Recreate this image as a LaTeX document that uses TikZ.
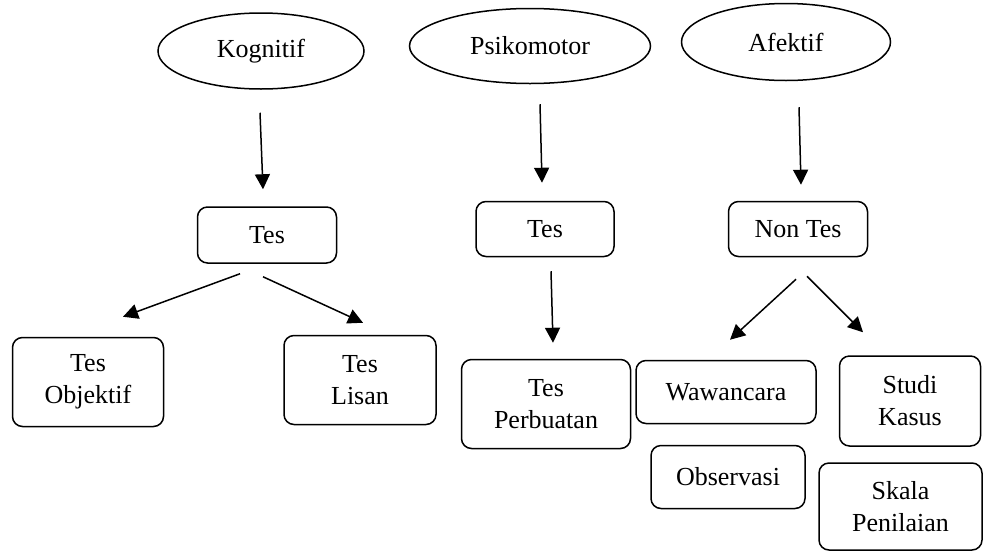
\documentclass[tikz,border=0pt]{standalone}
\usepackage{fontspec}
\setmainfont{Liberation Serif}
\usetikzlibrary{arrows.meta,calc,shapes.geometric}

\tikzset{
  every node/.style={font=\fontsize{26}{32}\selectfont},
  ranah/.style={ellipse, draw, line width=1.5pt, inner sep=0pt},
  kotak/.style={rectangle, rounded corners=10pt, draw, line width=1.5pt, inner sep=0pt, align=center},
  panah/.style={-{Triangle[length=15pt,width=15pt]}, line width=1.5pt}
}

\begin{document}
\begin{tikzpicture}[x=1pt,y=-1pt]
\useasboundingbox (0,0) rectangle (984,552);
% ranah penilaian
\node[ranah, minimum width=206, minimum height=76] (kog) at (261,51) {Kognitif};
\node[ranah, minimum width=241, minimum height=75] (psi) at (530,46) {Psikomotor};
\node[ranah, minimum width=209, minimum height=77] (afe) at (786,42) {Afektif};

% jenis alat
\node[kotak, minimum width=139, minimum height=56] (tes1) at (267,235) {Tes};
\node[kotak, minimum width=138, minimum height=55] (tes2) at (545,229) {Tes};
\node[kotak, minimum width=139, minimum height=55] (nontes) at (798,229) {Non Tes};

% bentuk
\node[kotak, minimum width=151, minimum height=89] (tobj) at (88,382) {Tes\\Objektif};
\node[kotak, minimum width=152, minimum height=89] (tlis) at (360,380) {Tes\\Lisan};
\node[kotak, minimum width=169, minimum height=89] (tperb) at (546,404) {Tes\\Perbuatan};
\node[kotak, minimum width=180, minimum height=63] (waw) at (726,392) {Wawancara};
\node[kotak, minimum width=154, minimum height=63] (obs) at (728,477) {Observasi};
\node[kotak, minimum width=141, minimum height=90] (studi) at (910,401) {Studi\\Kasus};
\node[kotak, minimum width=163, minimum height=87] (skala) at (900.5,506.5) {Skala\\Penilaian};

\draw[panah] ($(kog.south)+(-1,23)$) -- ($(tes1.north)+(-4,-17)$);
\draw[panah] ($(psi.south)+(10,20)$) -- ($(tes2.north)+(-3,-18)$);
\draw[panah] ($(afe.south)+(13,26)$) -- ($(nontes.north)+(3,-16)$);

\draw[panah] ($(tes1.south)+(-27,10)$) -- ($(tobj.north)+(35,-20)$);
\draw[panah] ($(tes1.south)+(-4,13)$) -- ($(tlis.north)+(3,-12)$);
\draw[panah] ($(tes2.south)+(6,14)$) -- ($(tperb.north)+(7,-16)$);
\draw[panah] ($(nontes.south)+(-2,22)$) -- ($(waw.north)+(4,-20)$);
\draw[panah] ($(nontes.south)+(9,19)$) -- ($(studi.north)+(-47,-23)$);

\end{tikzpicture}
\end{document}
